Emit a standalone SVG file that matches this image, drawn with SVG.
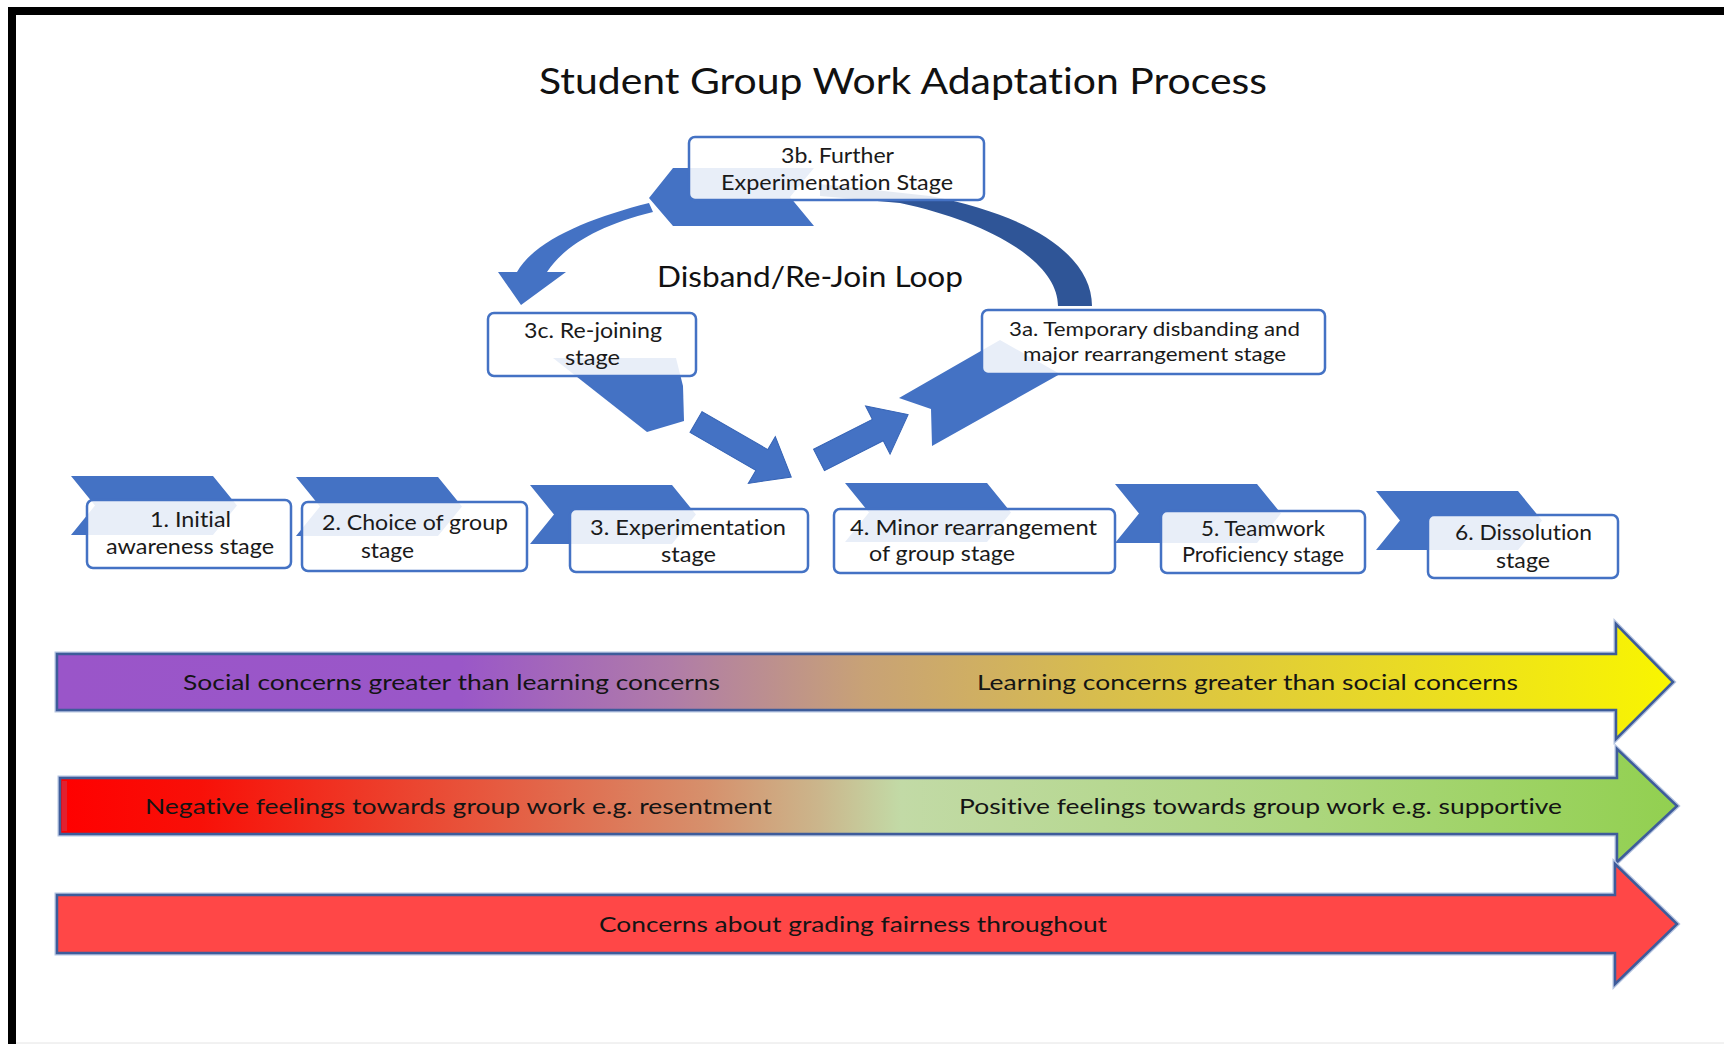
<svg xmlns="http://www.w3.org/2000/svg" xmlns:xlink="http://www.w3.org/1999/xlink" width="1724" height="1044" viewBox="0 0 1724 1044">
  <style>
    text { font-variant-ligatures: none; }
    .lbl { font-family: Lato, "Liberation Sans", sans-serif; font-size: 21px; fill: #1a1a1a; }
    .lbl-sm { font-family: Lato, "Liberation Sans", sans-serif; font-size: 20px; fill: #1a1a1a; }
    .ban { font-family: Lato, "Liberation Sans", sans-serif; font-size: 22px; fill: #141414; }
    .box { fill: #ffffff; fill-opacity: 0.88; stroke: #4472C4; stroke-width: 2.5; }
    .chev { fill: #4472C4; }
    .blk { fill: #4472C4; stroke: #3563B5; stroke-width: 1; }
    .halo { fill: none; stroke: #B4C3E0; stroke-width: 5; stroke-linejoin: miter; }
    .edge { stroke: #3E5C9A; stroke-width: 2.5; stroke-linejoin: miter; }
  </style>
  <defs>
    <!-- right-pointing chevron behind each stage box -->
    <polygon id="chev" class="chev" points="0,0 142,0 166,29.5 142,59 0,59 24,29.5"/>
    <linearGradient id="gConcern" x1="57" y1="0" x2="1673" y2="0" gradientUnits="userSpaceOnUse">
      <stop offset="0" stop-color="#9A55C9"/>
      <stop offset="0.25" stop-color="#9A57C8"/>
      <stop offset="0.38" stop-color="#B07CA8"/>
      <stop offset="0.50" stop-color="#C8A276"/>
      <stop offset="0.65" stop-color="#D8BE4C"/>
      <stop offset="1" stop-color="#F9F500"/>
    </linearGradient>
    <linearGradient id="gFeel" x1="60" y1="0" x2="1677" y2="0" gradientUnits="userSpaceOnUse">
      <stop offset="0" stop-color="#FF0000"/>
      <stop offset="0.087" stop-color="#F81008"/>
      <stop offset="0.27" stop-color="#E65A40"/>
      <stop offset="0.40" stop-color="#D6906C"/>
      <stop offset="0.47" stop-color="#CBB68C"/>
      <stop offset="0.52" stop-color="#C2DAA6"/>
      <stop offset="0.77" stop-color="#ACD67E"/>
      <stop offset="1" stop-color="#92D050"/>
    </linearGradient>
  </defs>

  <!-- page background and frame -->
  <rect x="0" y="0" width="1724" height="1044" fill="#ffffff"/>
  <rect x="8" y="7" width="1716" height="8" fill="#000000"/>
  <rect x="8" y="7" width="8" height="1037" fill="#000000"/>
  <line x1="16" y1="1043" x2="1724" y2="1043" stroke="#E4E4E4" stroke-width="1"/>

  <g id="title">
    <text x="539" y="94" font-family="Lato, 'Liberation Sans', sans-serif" font-size="37" fill="#111" textLength="728" lengthAdjust="spacingAndGlyphs">Student Group Work Adaptation Process</text>
  </g>

  <g id="loop-label">
    <text x="657" y="287" font-family="Lato, 'Liberation Sans', sans-serif" font-size="28" fill="#111" textLength="306" lengthAdjust="spacingAndGlyphs">Disband/Re-Join Loop</text>
  </g>

  <!-- loop connectors -->
  <g id="connectors">
    <!-- 3a to 3b: tapered dark arc -->
    <path d="M1092,306 C1092,255 1030,215 930,196 L820,184 L820,196 L900,203 C990,222 1058,262 1058,306 Z" fill="#2F5597"/>
    <!-- 3b to 3c: curved arrow -->
    <path d="M649,203 C590,218 535,240 517,272 L498,272 L521,305 L566,272 L547,272 C565,245 600,225 653,212 Z" fill="#4472C4"/>
    <!-- 3c to stage 3 -->
    <path class="blk" transform="translate(696,422) rotate(30)" d="M0,-12 L76,-12 L76,-27 L110,0 L76,27 L76,12 L0,12 Z"/>
    <!-- stage 3 to 3a -->
    <path class="blk" transform="translate(819,460) rotate(-27)" d="M0,-12 L66,-12 L66,-27 L100,0 L66,27 L66,12 L0,12 Z"/>
  </g>

  <g id="stage-3b">
    <polygon class="chev" points="649,198 673,168 814,168 790,197 814,226 673,226"/>
    <rect class="box" x="689" y="137" width="295" height="63" rx="6"/>
    <text class="lbl" x="781" y="163" textLength="113" lengthAdjust="spacingAndGlyphs">3b. Further</text>
    <text class="lbl" x="721" y="190" textLength="232" lengthAdjust="spacingAndGlyphs">Experimentation Stage</text>
  </g>

  <g id="stage-3c">
    <polygon class="chev" points="553,358 647,432 684,421 683,386 676,358"/>
    <rect class="box" x="488" y="313" width="208" height="63" rx="6"/>
    <text class="lbl" x="524" y="338" textLength="138" lengthAdjust="spacingAndGlyphs">3c. Re-joining</text>
    <text class="lbl" x="565" y="365" textLength="55" lengthAdjust="spacingAndGlyphs">stage</text>
  </g>

  <g id="stage-3a">
    <polygon class="chev" points="899,398 931,409 932,446 1060,374 1000,340"/>
    <rect class="box" x="982" y="310" width="343" height="64" rx="6"/>
    <text class="lbl-sm" x="1009" y="336" textLength="291" lengthAdjust="spacingAndGlyphs">3a. Temporary disbanding and</text>
    <text class="lbl-sm" x="1023" y="361" textLength="263" lengthAdjust="spacingAndGlyphs">major rearrangement stage</text>
  </g>

  <g id="stage-1">
    <use xlink:href="#chev" x="71" y="476"/>
    <rect class="box" x="87" y="500" width="204" height="68" rx="6"/>
    <text class="lbl" x="150" y="527" textLength="81" lengthAdjust="spacingAndGlyphs">1. Initial</text>
    <text class="lbl" x="106" y="554" textLength="168" lengthAdjust="spacingAndGlyphs">awareness stage</text>
  </g>

  <g id="stage-2">
    <use xlink:href="#chev" x="296" y="477"/>
    <rect class="box" x="302" y="502" width="225" height="69" rx="6"/>
    <text class="lbl" x="322" y="530" textLength="186" lengthAdjust="spacingAndGlyphs">2. Choice of group</text>
    <text class="lbl" x="361" y="558" textLength="53" lengthAdjust="spacingAndGlyphs">stage</text>
  </g>

  <g id="stage-3">
    <use xlink:href="#chev" x="530" y="485"/>
    <rect class="box" x="570" y="509" width="238" height="63" rx="6"/>
    <text class="lbl" x="590" y="535" textLength="196" lengthAdjust="spacingAndGlyphs">3. Experimentation</text>
    <text class="lbl" x="661" y="562" textLength="55" lengthAdjust="spacingAndGlyphs">stage</text>
  </g>

  <g id="stage-4">
    <use xlink:href="#chev" x="845" y="483"/>
    <rect class="box" x="834" y="509" width="281" height="64" rx="6"/>
    <text class="lbl" x="850" y="535" textLength="247" lengthAdjust="spacingAndGlyphs">4. Minor rearrangement</text>
    <text class="lbl" x="869" y="561" textLength="146" lengthAdjust="spacingAndGlyphs">of group stage</text>
  </g>

  <g id="stage-5">
    <use xlink:href="#chev" x="1115" y="484"/>
    <rect class="box" x="1161" y="511" width="204" height="62" rx="6"/>
    <text class="lbl" x="1201" y="536" textLength="124" lengthAdjust="spacingAndGlyphs">5. Teamwork</text>
    <text class="lbl" x="1182" y="562" textLength="162" lengthAdjust="spacingAndGlyphs">Proficiency stage</text>
  </g>

  <g id="stage-6">
    <use xlink:href="#chev" x="1376" y="491"/>
    <rect class="box" x="1428" y="515" width="190" height="63" rx="6"/>
    <text class="lbl" x="1455" y="540" textLength="137" lengthAdjust="spacingAndGlyphs">6. Dissolution</text>
    <text class="lbl" x="1496" y="568" textLength="54" lengthAdjust="spacingAndGlyphs">stage</text>
  </g>

  <!-- continuum banners -->
  <g id="banner-concerns">
    <path class="halo" d="M57,654 L1616,654 L1616,624 L1673,682 L1616,739 L1616,710 L57,710 Z"/>
    <path class="edge" fill="url(#gConcern)" d="M57,654 L1616,654 L1616,624 L1673,682 L1616,739 L1616,710 L57,710 Z"/>
    <text class="ban" x="183" y="690" textLength="537" lengthAdjust="spacingAndGlyphs">Social concerns greater than learning concerns</text>
    <text class="ban" x="977" y="690" textLength="541" lengthAdjust="spacingAndGlyphs">Learning concerns greater than social concerns</text>
  </g>

  <g id="banner-feelings">
    <path class="halo" d="M60,778 L1617,778 L1617,749 L1677,806 L1617,862 L1617,834 L60,834 Z"/>
    <path class="edge" fill="url(#gFeel)" d="M60,778 L1617,778 L1617,749 L1677,806 L1617,862 L1617,834 L60,834 Z"/>
    <rect x="62" y="781" width="5" height="50" fill="#E2202E"/>
    <text class="ban" x="145" y="814" textLength="627" lengthAdjust="spacingAndGlyphs">Negative feelings towards group work e.g. resentment</text>
    <text class="ban" x="959" y="814" textLength="603" lengthAdjust="spacingAndGlyphs">Positive feelings towards group work e.g. supportive</text>
  </g>

  <g id="banner-grading">
    <path class="halo" d="M57,895 L1615,895 L1615,864 L1677,924 L1615,984 L1615,953 L57,953 Z"/>
    <path class="edge" fill="#FF4747" d="M57,895 L1615,895 L1615,864 L1677,924 L1615,984 L1615,953 L57,953 Z"/>
    <text class="ban" x="599" y="932" textLength="508" lengthAdjust="spacingAndGlyphs">Concerns about grading fairness throughout</text>
  </g>
</svg>
